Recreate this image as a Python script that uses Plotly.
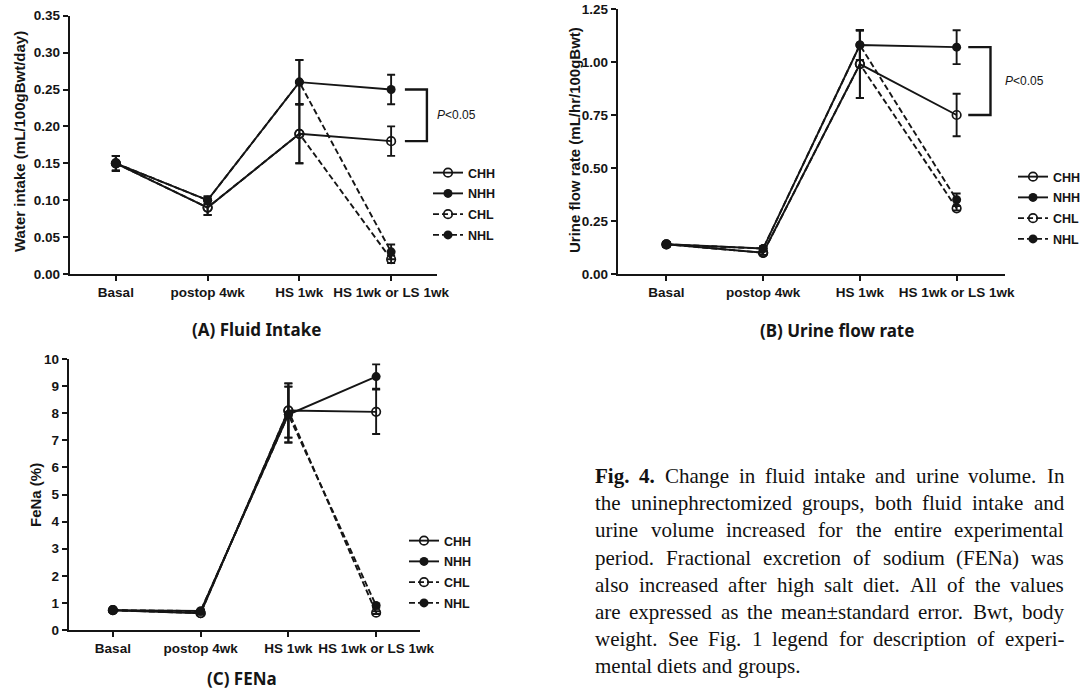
import plotly.graph_objects as go

W, H = 1084, 690

categories = ["Basal", "postop 4wk", "HS 1wk", "HS 1wk or LS 1wk"]
groups = ["CHH", "NHH", "CHL", "NHL"]

# (A) Fluid intake, mL/100gBwt/day
water_CHH = [0.15, 0.09, 0.19, 0.18]
water_NHH = [0.15, 0.10, 0.26, 0.25]
water_CHL = [0.15, 0.09, 0.19, 0.02]
water_NHL = [0.15, 0.10, 0.26, 0.03]
water_err_CHH = [0.01, 0.01, 0.04, 0.02]
water_err_NHH = [0.01, 0.005, 0.03, 0.02]
water_err_CHL = [0.01, 0.01, 0.04, 0.005]
water_err_NHL = [0.01, 0.005, 0.03, 0.01]

# (B) Urine flow rate, mL/hr/100gBwt
urine_CHH = [0.14, 0.10, 0.99, 0.75]
urine_NHH = [0.14, 0.12, 1.08, 1.07]
urine_CHL = [0.14, 0.10, 0.99, 0.31]
urine_NHL = [0.14, 0.12, 1.08, 0.35]
urine_err_CHH = [0.01, 0.01, 0.16, 0.10]
urine_err_NHH = [0.01, 0.01, 0.07, 0.08]
urine_err_CHL = [0.01, 0.01, 0.16, 0.01]
urine_err_NHL = [0.01, 0.01, 0.07, 0.03]

# (C) FeNa, %
fena_CHH = [0.73, 0.62, 8.1, 8.05]
fena_NHH = [0.73, 0.70, 7.95, 9.35]
fena_CHL = [0.73, 0.62, 8.1, 0.64]
fena_NHL = [0.73, 0.70, 7.95, 0.90]
fena_err_CHH = [0.05, 0.05, 1.0, 0.82]
fena_err_NHH = [0.05, 0.05, 1.03, 0.45]
fena_err_CHL = [0.05, 0.05, 1.0, 0.05]
fena_err_NHL = [0.05, 0.05, 1.03, 0.08]

y_titles = ["Water intake (mL/100gBwt/day)", "Urine flow rate (mL/hr/100gBwt)", "FeNa (%)"]
panel_titles = ["(A) Fluid Intake", "(B) Urine flow rate", "(C) FENa"]
p_text = "<i>P</i>&lt;0.05"

caption_lines = [
    "Fig. 4. Change in fluid intake and urine volume. In",
    "the uninephrectomized groups, both fluid intake and",
    "urine volume increased for the entire experimental",
    "period. Fractional excretion of sodium (FENa) was",
    "also increased after high salt diet. All of the values",
    "are expressed as the mean\u00b1standard error. Bwt, body",
    "weight. See Fig. 1 legend for description of experi-",
    "mental diets and groups.",
]

INK = "#151515"


def px(x):
    return x / W


def py(y):
    return 1 - y / H


SANS = "Liberation Sans, Arial, sans-serif"

panels = [
    dict(xa="x", ya="y", legend="legend",
         vals=[water_CHH, water_NHH, water_CHL, water_NHL],
         errs=[water_err_CHH, water_err_NHH, water_err_CHL, water_err_NHL]),
    dict(xa="x2", ya="y2", legend="legend2",
         vals=[urine_CHH, urine_NHH, urine_CHL, urine_NHL],
         errs=[urine_err_CHH, urine_err_NHH, urine_err_CHL, urine_err_NHL]),
    dict(xa="x3", ya="y3", legend="legend3",
         vals=[fena_CHH, fena_NHH, fena_CHL, fena_NHL],
         errs=[fena_err_CHH, fena_err_NHH, fena_err_CHL, fena_err_NHL]),
]

style = {
    "CHH": dict(dash="solid", symbol="circle-open"),
    "NHH": dict(dash="solid", symbol="circle"),
    "CHL": dict(dash="6px,3px", symbol="circle-open"),
    "NHL": dict(dash="6px,3px", symbol="circle"),
}

fig = go.Figure()
draw_order = [2, 3, 0, 1]
for pi, p in enumerate(panels):
    for gi in draw_order:
        g = groups[gi]
        st = style[g]
        is_open = st["symbol"].endswith("open")
        fig.add_trace(go.Scatter(
            x=categories, y=p["vals"][gi], name=g,
            xaxis=p["xa"], yaxis=p["ya"], legend=p["legend"],
            legendgroup=f"{pi}_{g}", legendrank=gi + 1,
            mode="lines+markers",
            line=dict(color=INK, width=1.9, dash=st["dash"]),
            marker=dict(symbol=st["symbol"], size=8.5 if is_open else 9, color=INK,
                        line=dict(width=1.7 if is_open else 0, color=INK)),
            error_y=dict(type="data", array=p["errs"][gi], visible=True,
                         color=INK, thickness=1.9, width=4),
            cliponaxis=False,
            hoverinfo="skip",
        ))

axis_common = dict(showline=True, linewidth=2.4, linecolor=INK, ticks="outside",
                   ticklen=5, tickwidth=2, tickcolor=INK, showgrid=False, zeroline=False,
                   tickfont=dict(family=SANS, size=13.5, color=INK, weight="bold"))

xdoms = [(70, 437), (618, 1005), (69, 420)]
ydoms = [(274, 15.7), (274, 9), (630, 359)]
yranges = [(0, 0.35), (0, 1.25), (0, 10)]
ydticks = [0.05, 0.25, 1]
yfmts = [".2f", ".2f", "d"]

layout = dict(width=W, height=H, margin=dict(l=0, r=0, t=0, b=0, autoexpand=False),
              paper_bgcolor="white", plot_bgcolor="white", showlegend=True)
for i in range(3):
    sx = "" if i == 0 else str(i + 1)
    layout["xaxis" + sx] = dict(axis_common, domain=[px(xdoms[i][0]), px(xdoms[i][1])],
                                anchor="y" + sx, type="category", range=[-0.5, 3.5],
                                tickmode="array", tickvals=categories, ticktext=categories,
                                automargin=False)
    layout["yaxis" + sx] = dict(axis_common, domain=[py(ydoms[i][0]), py(ydoms[i][1])],
                                anchor="x" + sx, range=list(yranges[i]), dtick=ydticks[i],
                                tick0=0, tickformat=yfmts[i], automargin=False)

legend_pos = [(428, 158), (1013, 162), (404, 526)]
for i, (lx, ly) in enumerate(legend_pos):
    key = "legend" if i == 0 else f"legend{i + 1}"
    layout[key] = dict(x=px(lx), y=py(ly), xanchor="left", yanchor="top",
                       bgcolor="rgba(0,0,0,0)", borderwidth=0, itemwidth=30,
                       traceorder="grouped", tracegroupgap=1.5,
                       font=dict(family=SANS, size=12.5, color=INK, weight="bold"),
                       itemclick=False, itemdoubleclick=False)
fig.update_layout(**layout)

# significance brackets (data coordinates of the two compared means)
shapes = []
annotations = []
brackets = [("x", "y", water_NHH[3], water_CHH[3], 3.15, 3.39, 0.09),
            ("x2", "y2", urine_NHH[3], urine_CHH[3], 3.12, 3.35, 0.13)]
for xr, yr, ytop, ybot, x0, x1, off in brackets:
    shapes.append(dict(type="path", xref=xr, yref=yr,
                       path=f"M {x0},{ytop} L {x1},{ytop} L {x1},{ybot} L {x0},{ybot}",
                       line=dict(color=INK, width=2.4)))
    annotations.append(dict(xref=xr, yref=yr, x=x1 + off, y=(ytop + ybot) / 2,
                            text=p_text, showarrow=False, xanchor="left", yanchor="middle",
                            font=dict(family=SANS, size=12, color=INK)))

# y-axis titles
ytitle_pos = [(20, 142), (574, 140), (35, 495)]
for t, (x, y) in zip(y_titles, ytitle_pos):
    annotations.append(dict(xref="paper", yref="paper", x=px(x), y=py(y), text=t,
                            textangle=-90, showarrow=False, xanchor="center", yanchor="middle",
                            font=dict(family=SANS, size=15, color=INK, weight="bold")))

# panel titles
ptitle_pos = [(256, 329), (837, 330), (242, 678)]
for t, (x, y) in zip(panel_titles, ptitle_pos):
    annotations.append(dict(xref="paper", yref="paper", x=px(x), y=py(y), text=t,
                            showarrow=False, xanchor="center", yanchor="middle",
                            font=dict(family="Noto Sans, sans-serif", size=17, color=INK,
                                      weight="bold")))

# caption, justified word by word using Times metrics
TIMES = dict(zip("abcdefghijklmnopqrstuvwxyz",
                 [444, 500, 444, 500, 444, 333, 500, 500, 278, 278, 500, 278, 778,
                  500, 500, 500, 500, 333, 389, 278, 500, 500, 722, 500, 500, 444]))
TIMES.update(dict(zip("ABCDEFGHIJKLMNOPQRSTUVWXYZ",
                      [722, 667, 667, 722, 611, 556, 722, 722, 333, 389, 722, 611, 889,
                       722, 722, 556, 722, 667, 556, 611, 722, 722, 944, 722, 722, 611])))
TIMES.update({" ": 250, ".": 250, ",": 250, "-": 333, "(": 333, ")": 333, "\u00b1": 564})
for d in "0123456789":
    TIMES[d] = 500
TIMES_BOLD = dict(TIMES)
TIMES_BOLD.update({"F": 611})

cap_size = 21
cap_left, cap_right = 594, 1063
cap_y0, cap_dy = 476, 27.2


def word_w(w, bold):
    tab = TIMES_BOLD if bold else TIMES
    return sum(tab.get(c, 500) for c in w) * cap_size / 1000


for li, line in enumerate(caption_lines):
    words = line.split(" ")
    bolds = [li == 0 and wi < 2 for wi in range(len(words))]
    widths = [word_w(w, b) for w, b in zip(words, bolds)]
    if li < len(caption_lines) - 1:
        gap = (cap_right - cap_left - sum(widths)) / (len(words) - 1)
    else:
        gap = 250 * cap_size / 1000
    xcur = cap_left
    for w, b, ww in zip(words, bolds, widths):
        annotations.append(dict(xref="paper", yref="paper", x=px(xcur - 1), y=py(cap_y0 + li * cap_dy),
                                text=f"<b>{w}</b>" if b else w, showarrow=False,
                                xanchor="left", yanchor="middle",
                                font=dict(family="Liberation Serif, Times New Roman, serif",
                                          size=cap_size, color="#111")))
        xcur += ww + gap

fig.update_layout(shapes=shapes, annotations=annotations)
fig.write_html("out.html", config={"displayModeBar": False},
               post_script="document.body.style.margin='0';document.body.style.overflow='hidden';")
